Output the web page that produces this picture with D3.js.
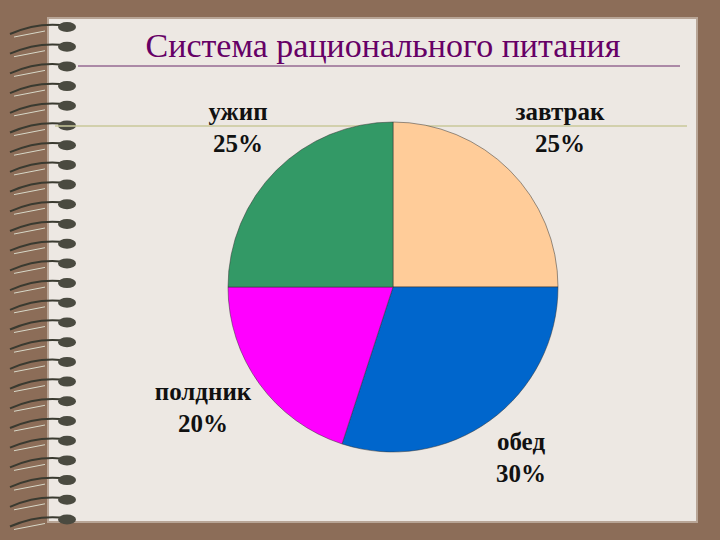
<!DOCTYPE html><html><head><meta charset="utf-8"><script src="https://cdn.jsdelivr.net/npm/d3@7"></script>
<style>body{margin:0}</style></head><body><svg id="c" width="720" height="540"></svg>
<script>
const categories=["завтрак","обед","полдник","ужип"];
const values=[25,30,20,25];
const labels=["25%","30%","20%","25%"];
const colors=["#FFCC99","#0066CC","#FF00FF","#339966"];
const labelPos=[[560,120],[521,450],[203,400],[238,120]];
const svg=d3.select("#c");
svg.append("rect").attr("width",720).attr("height",540).attr("fill","#8C6D58");
svg.append("rect").attr("x",48).attr("y",18).attr("width",649).attr("height",504).attr("fill","#EDE8E3").attr("stroke","#B8A596").attr("stroke-width",2);
// spiral binding
const rings=d3.range(25,520,19.7);
rings.forEach(y=>{
  svg.append("path").attr("d",`M10,${y+9} Q35,${y-2} 60,${y}`).attr("stroke","#3a3a30").attr("stroke-width",2).attr("fill","none");
  svg.append("path").attr("d",`M14,${y+12} L45,${y+6}`).attr("stroke","#d8d8c8").attr("stroke-width",1).attr("fill","none");
  svg.append("ellipse").attr("cx",67).attr("cy",y+2).attr("rx",9).attr("ry",5).attr("fill","#4a4a40");
});
svg.append("line").attr("x1",78).attr("x2",680).attr("y1",66).attr("y2",66).attr("stroke","#6a2a6a").attr("stroke-width",1);
svg.append("line").attr("x1",55).attr("x2",687).attr("y1",126).attr("y2",126).attr("stroke","#c8c89a").attr("stroke-width",1.5);
svg.append("text").attr("x",383).attr("y",57).attr("text-anchor","middle").attr("font-family","Liberation Serif").attr("font-size",34).attr("fill","#660066").text("Система рационального питания");
const pie=d3.pie().sort(null).value(d=>d)(values);
const arc=d3.arc().innerRadius(0).outerRadius(165);
const g=svg.append("g").attr("transform","translate(393,287)");
g.selectAll("path").data(pie).join("path").attr("d",arc).attr("fill",(d,i)=>colors[i]).attr("stroke","#333").attr("stroke-width",0.5);
categories.forEach((c,i)=>{
  const t=svg.append("text").attr("text-anchor","middle").attr("font-family","Liberation Serif").attr("font-weight","bold").attr("font-size",25).attr("fill","#111");
  t.append("tspan").attr("x",labelPos[i][0]).attr("y",labelPos[i][1]).text(c);
  t.append("tspan").attr("x",labelPos[i][0]).attr("y",labelPos[i][1]+32).text(labels[i]);
});
</script></body></html>
